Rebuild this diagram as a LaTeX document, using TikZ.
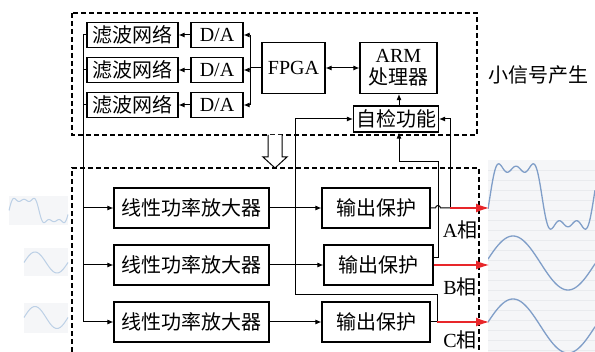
\documentclass[tikz,border=0pt]{standalone}
\usepackage{fontspec}
\setmainfont{Liberation Serif}
\newfontfamily\cjk{Noto Sans CJK SC}
\usetikzlibrary{positioning, arrows.meta, calc}
\definecolor{phasered}{HTML}{E8262A}
\definecolor{wavedark}{HTML}{7F9EC8}
\definecolor{wavepale}{HTML}{BCD0E6}
\definecolor{panelbg}{HTML}{F5F6F8}
\definecolor{panelline}{HTML}{E9EBEE}

\begin{document}
\begin{tikzpicture}[x=1pt, y=-1pt,
		blk/.style={draw, line width=1.1pt, inner sep=0pt, font=\fontsize{20}{22}\selectfont\cjk},
		latinblk/.style={blk, font=\fontsize{20}{22}\selectfont},
		plain/.style={inner sep=0pt, font=\fontsize{20}{22}\selectfont},
		wire/.style={line width=1pt},
		arr/.style={wire, -{Latex[length=6pt, width=5pt]}},
		redarr/.style={line width=1.3pt, draw=phasered, -{Latex[length=13pt, width=9pt]}},
		frame/.style={line width=1.1pt, dash pattern=on 5pt off 3pt}]
		\useasboundingbox (0,0) rectangle (595,352);
		% waveforms
		\fill[panelbg] (488,160) rectangle (595,352);
		\foreach \yy in {170,180,...,350} \draw[panelline, line width=0.4pt] (488,\yy) -- (595,\yy);
		\begin{scope}
			\clip (488,160) rectangle (595,352);
			\draw[wavedark, line width=1.3pt] plot[domain=488:595, samples=160] (\x, {196.5-35*(sin((\x-490)/52*180)+sin(3*(\x-490)/52*180)/3+sin(5*(\x-490)/52*180)/5)});
			\draw[wavedark, line width=1.3pt] plot[domain=488:595, samples=100] (\x, {263-27*sin((\x-485.5)/110*360)});
			\draw[wavedark, line width=1.3pt] plot[domain=488:595, samples=100] (\x, {326-27*sin((\x-485.5)/110*360)});
		\end{scope}
		\fill[panelbg] (9,196) rectangle (68,225);
		\fill[panelbg] (24,248) rectangle (68,276);
		\fill[panelbg] (24,303) rectangle (68,333);
		\draw[wavepale, line width=1pt] plot[domain=9:68, samples=100] (\x, {210.5-13*(sin((\x-9)/30*180)+sin(3*(\x-9)/30*180)/3+sin(5*(\x-9)/30*180)/5)});
		\draw[wavepale, line width=1pt] plot[domain=24:68, samples=60] (\x, {262.5-10.5*sin((\x-24)/44*360)});
		\draw[wavepale, line width=1pt] plot[domain=24:68, samples=60] (\x, {317.5-11*sin((\x-24)/44*360)});
		% small signal part
		\draw[frame] (72,13) rectangle (477,135);
		\node[blk, minimum width=91, minimum height=25] (filt1) at (132.5,35) {滤波网络};
		\node[blk, minimum width=91, minimum height=25] (filt2) at (132.5,70) {滤波网络};
		\node[blk, minimum width=91, minimum height=25] (filt3) at (132.5,105) {滤波网络};
		\node[latinblk, minimum width=52, minimum height=25] (da1) at (217,35) {D/A};
		\node[latinblk, minimum width=52, minimum height=25] (da2) at (217,70) {D/A};
		\node[latinblk, minimum width=52, minimum height=25] (da3) at (217,105) {D/A};
		\node[latinblk, minimum width=63, minimum height=51] (fpga) at (293.5,68) {FPGA};
		\node[latinblk, minimum width=77, minimum height=51, align=center] (arm) at (398.5,68) {ARM\\{\cjk 处理器}};
		\node[blk, minimum width=85, minimum height=26] (check) at (396,119) {自检功能};
		\node[plain, font=\fontsize{20}{22}\selectfont\cjk] (title) at (538,75) {小信号产生};
		\coordinate (fanTop) at (250,35);
		\coordinate (fanMid) at (250,68);
		\coordinate (fanBot) at (250,105);
		\draw[wire] (fpga.west) -- (fanMid);
		\draw[wire] (fanTop) -- (fanBot);
		\draw[arr] (fanTop) -- (da1.east);
		\draw[arr] (fanMid |- da2.east) -- (da2.east);
		\draw[arr] (fanBot) -- (da3.east);
		\draw[arr] (da1.west) -- (filt1.east);
		\draw[arr] (da2.west) -- (filt2.east);
		\draw[arr] (da3.west) -- (filt3.east);
		\draw[wire, {Latex[length=6pt, width=5pt]}-{Latex[length=6pt, width=5pt]}] (fpga.east) -- (arm.west);
		\coordinate (tap) at (399,162);
		\draw[arr] (tap |- check.north) -- (tap |- arm.south);
		% hollow arrow between the parts
		\draw[line width=1pt, fill=white] (268,135) -- (268,157) -- (263,157) -- (275,168) -- (287,157) -- (282,157) -- (282,135);
		% power part
		\draw[frame] (72,352) -- (72,168) -- (479,168) -- (479,352);
		\node[blk, minimum width=155, minimum height=40] (amp1) at (191.5,208) {线性功率放大器};
		\node[blk, minimum width=155, minimum height=40] (amp2) at (191.5,265) {线性功率放大器};
		\node[blk, minimum width=155, minimum height=40] (amp3) at (191.5,322) {线性功率放大器};
		\node[blk, minimum width=108, minimum height=40] (prot1) at (376,208) {输出保护};
		\node[blk, minimum width=109, minimum height=40] (prot2) at (378.5,265) {输出保护};
		\node[blk, minimum width=108, minimum height=40] (prot3) at (376,322) {输出保护};
		\node[plain] (labA) at (460,230) {A\cjk 相};
		\node[plain] (labB) at (460,287) {B\cjk 相};
		\node[plain] (labC) at (460,340) {C\cjk 相};
		\coordinate (busTop) at (83,35);
		\coordinate (busA) at (83,208);
		\coordinate (busB) at (83,265);
		\coordinate (busC) at (83,322);
		\draw[wire] (filt1.west) -- (busTop) -- (busC);
		\draw[wire] (filt2.west) -- (busTop |- filt2.west);
		\draw[wire] (filt3.west) -- (busTop |- filt3.west);
		\draw[arr] (busA) -- (amp1.west);
		\draw[arr] (busB) -- (amp2.west);
		\draw[arr] (busC) -- (amp3.west);
		\draw[arr] (amp1.east) -- (prot1.west);
		\draw[arr] (amp2.east) -- (prot2.west);
		\draw[arr] (amp3.east) -- (prot3.west);
		% feedback to self check
		\coordinate (fbA) at (450,208);
		\coordinate (fbC) at (437,322);
		\draw[wire] (prot1.east) -- (435.5,208) arc[start angle=180, end angle=360, radius=2.5] -- (fbA);
		\draw[arr] (fbA) |- (check.east);
		\draw[arr] ($(prot2.east)+(0,-7)$) -- (438,258) -- (438,162) -- (tap) -- (tap |- check.south);
		\draw[arr] (prot3.east) -- (fbC) -- (437,295) -- (295,295) |- (check.west);
		\coordinate (outA) at (489,208);
		\coordinate (outB) at (489,265);
		\coordinate (outC) at (489,322);
		\draw[redarr] (fbA) -- (outA);
		\draw[redarr] (prot2.east) -- (outB);
		\draw[redarr] (fbC) -- (outC);
	\end{tikzpicture}
\end{document}
